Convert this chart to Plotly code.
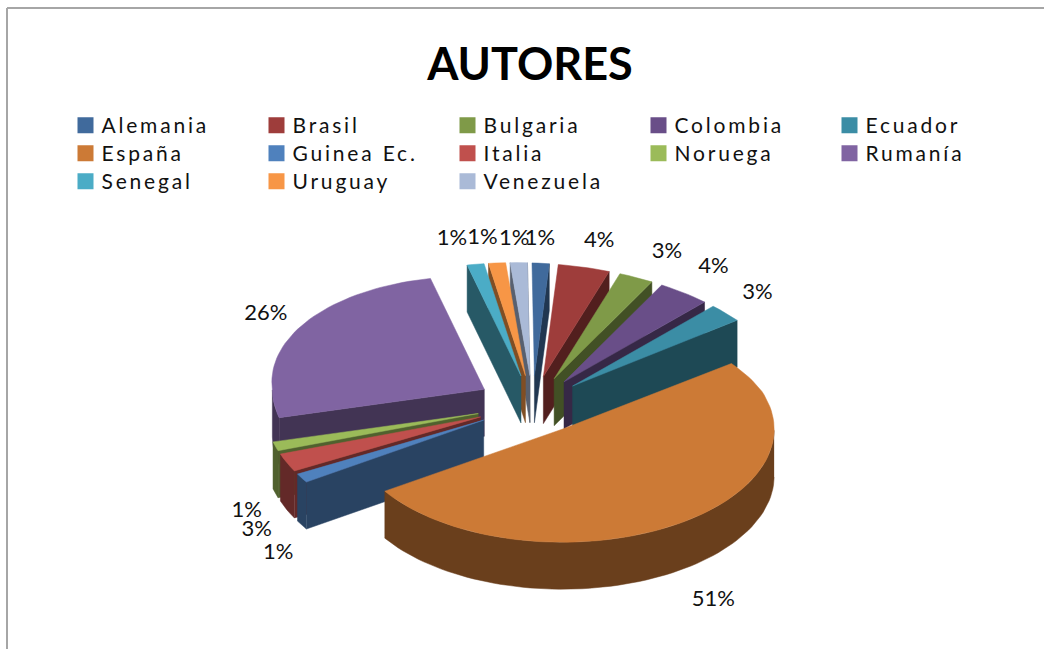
import math
import plotly.graph_objects as go

# ---- data -------------------------------------------------------------
countries = ["Alemania", "Brasil", "Bulgaria", "Colombia", "Ecuador", "España", "Guinea Ec.",
             "Italia", "Noruega", "Rumanía", "Senegal", "Uruguay", "Venezuela"]
authors = [1, 3, 2, 3, 2, 39, 1, 2, 1, 20, 1, 1, 1]
chart_title = "AUTORES"

# ---- style ------------------------------------------------------------
top_colors = ["#406A9C", "#9E3D3B", "#7F9A48", "#694E88", "#3B8DA5", "#CC7A36", "#4F81BD",
              "#C0504D", "#9BBB59", "#8064A2", "#4BACC6", "#F79646", "#AABAD7"]
label_dx = [0, 16, 32, 31, 34, 22, -29, -34, -31, -30, -23, -14, -4]
label_dy = [-25, -25, -23, -22, -15, 83, 70, 62, 59, -22, -27, -26, -25]
W, H = 1044, 649
CX, CY = 531, 405      # pie centre
RX, RY = 212, 113      # ellipse radii
DEPTH = 47             # extrusion
EXPLODE = 0.26
SHADE = 0.52
ROT = 3                # first slice angle
SKEW = 0.12            # far part of the pie leans to the left
SKEW_Y = 390
FONT = "Lato, 'Open Sans', sans-serif"


def shade(hex_color, f=SHADE):
    r, g, b = (int(hex_color[i:i + 2], 16) for i in (1, 3, 5))
    return f"rgb({int(r * f)},{int(g * f)},{int(b * f)})"


def unit(deg):
    a = math.radians(deg)
    return math.sin(a), -math.cos(a)


def skew(x, y):
    return x - SKEW * max(0, SKEW_Y - y)


fig = go.Figure()

# legend entries
for name, col in zip(countries, top_colors):
    fig.add_trace(go.Scatter(x=[None], y=[None], mode="markers", name=name,
                             marker=dict(symbol="square", size=16, color=col)))

total = sum(authors)
slices = []
cum = 0
for i, v in enumerate(authors):
    a0 = ROT + cum / total * 360
    cum += v
    a1 = ROT + cum / total * 360
    mid = (a0 + a1) / 2
    ux, uy = unit(mid)
    ox = CX + EXPLODE * RX * ux
    oy = CY + EXPLODE * RY * uy
    slices.append(dict(i=i, a0=a0, a1=a1, mid=mid, ox=ox, oy=oy))


def poly(xs, ys, color, name):
    fig.add_trace(go.Scatter(x=xs, y=ys, mode="lines", fill="toself", fillcolor=color,
                             line=dict(color=color, width=0.5), showlegend=False,
                             hoverinfo="text", text=name))


for s in sorted(slices, key=lambda d: d["oy"] + 0.25 * RY * unit(d["mid"])[1]):
    i, a0, a1, oy = s["i"], s["a0"], s["a1"], s["oy"]
    ox = skew(s["ox"], oy)
    name, top = countries[i], top_colors[i]
    side = shade(top)
    n = max(3, int((a1 - a0) / 2))
    arc = [a0 + (a1 - a0) * k / n for k in range(n + 1)]
    py = [oy + RY * unit(t)[1] for t in arc]
    px = [skew(s["ox"] + RX * unit(t)[0], y) for t, y in zip(arc, py)]
    # radial side faces that look towards the viewer
    if unit(a0 - 90)[1] > 0:
        poly([ox, px[0], px[0], ox, ox], [oy, py[0], py[0] + DEPTH, oy + DEPTH, oy], side, name)
    if unit(a1 + 90)[1] > 0:
        poly([ox, px[-1], px[-1], ox, ox], [oy, py[-1], py[-1] + DEPTH, oy + DEPTH, oy], side, name)
    # outer rim (front half only)
    front = [(x, y) for t, x, y in zip(arc, px, py) if 90 <= t <= 270]
    if len(front) > 1:
        fx = [p[0] for p in front]
        fy = [p[1] for p in front]
        poly(fx + fx[::-1], fy + [y + DEPTH for y in fy[::-1]], side, name)
    # top face
    poly([ox] + px + [ox], [oy] + py + [oy], top, name)

# percentage labels
lx, ly, lt = [], [], []
for s in slices:
    ux, uy = unit(s["mid"] - ROT)
    i = s["i"]
    lx.append(529 + (1 + EXPLODE) * 212 * ux + label_dx[i])
    ly.append(404 + (1 + EXPLODE) * 112 * uy + label_dy[i] + 1)
    lt.append(f"{round(authors[i] / total * 100)}%")
fig.add_trace(go.Scatter(x=lx, y=ly, text=lt, mode="text", showlegend=False, hoverinfo="skip",
                         textfont=dict(family=FONT, size=22, color="#111111"),
                         textposition="middle center"))

fig.update_layout(
    width=W, height=H, autosize=False,
    margin=dict(l=0, r=0, t=0, b=0),
    paper_bgcolor="white", plot_bgcolor="white",
    title=dict(text=f"<b>{chart_title}</b>", x=530 / W, xanchor="center", xref="paper",
               y=1 - 64 / H, yanchor="middle", yref="paper",
               font=dict(family=FONT, size=45, color="black")),
    xaxis=dict(range=[0, W], visible=False, fixedrange=True),
    yaxis=dict(range=[H, 0], visible=False, fixedrange=True),
    legend=dict(orientation="h", x=65.5 / W, xanchor="left", y=1 - 105 / H, yanchor="top",
                entrywidth=146, entrywidthmode="pixels", traceorder="normal",
                font=dict(family=FONT, size=21, color="#111111"),
                bgcolor="rgba(0,0,0,0)", itemclick=False, itemdoubleclick=False),
    shapes=[
        dict(type="line", xref="x", yref="y", x0=7, x1=7, y0=8, y1=H, line=dict(color="#A6A6A6", width=2)),
        dict(type="line", xref="x", yref="y", x0=7, x1=W, y0=8, y1=8, line=dict(color="#A6A6A6", width=2)),
    ],
)

post = """
document.body.style.margin='0';
document.querySelectorAll('.legendtext').forEach(function(t){t.style.letterSpacing='2.8px';t.setAttribute('x','36');});
document.querySelectorAll('.legend .traces').forEach(function(g,k){
  var m=/translate\\(([-\\d.]+)[ ,]+([-\\d.]+)\\)/.exec(g.getAttribute('transform')||'');
  if(!m){return;}
  var first=document.querySelector('.legend .traces');
  var m0=/translate\\(([-\\d.]+)[ ,]+([-\\d.]+)\\)/.exec(first.getAttribute('transform'));
  var row=Math.floor(k/5);
  g.setAttribute('transform','translate('+m[1]+','+(parseFloat(m0[2])+row*28)+')');
});
"""
fig.write_html("out.html", post_script=post, config=dict(displayModeBar=False))
